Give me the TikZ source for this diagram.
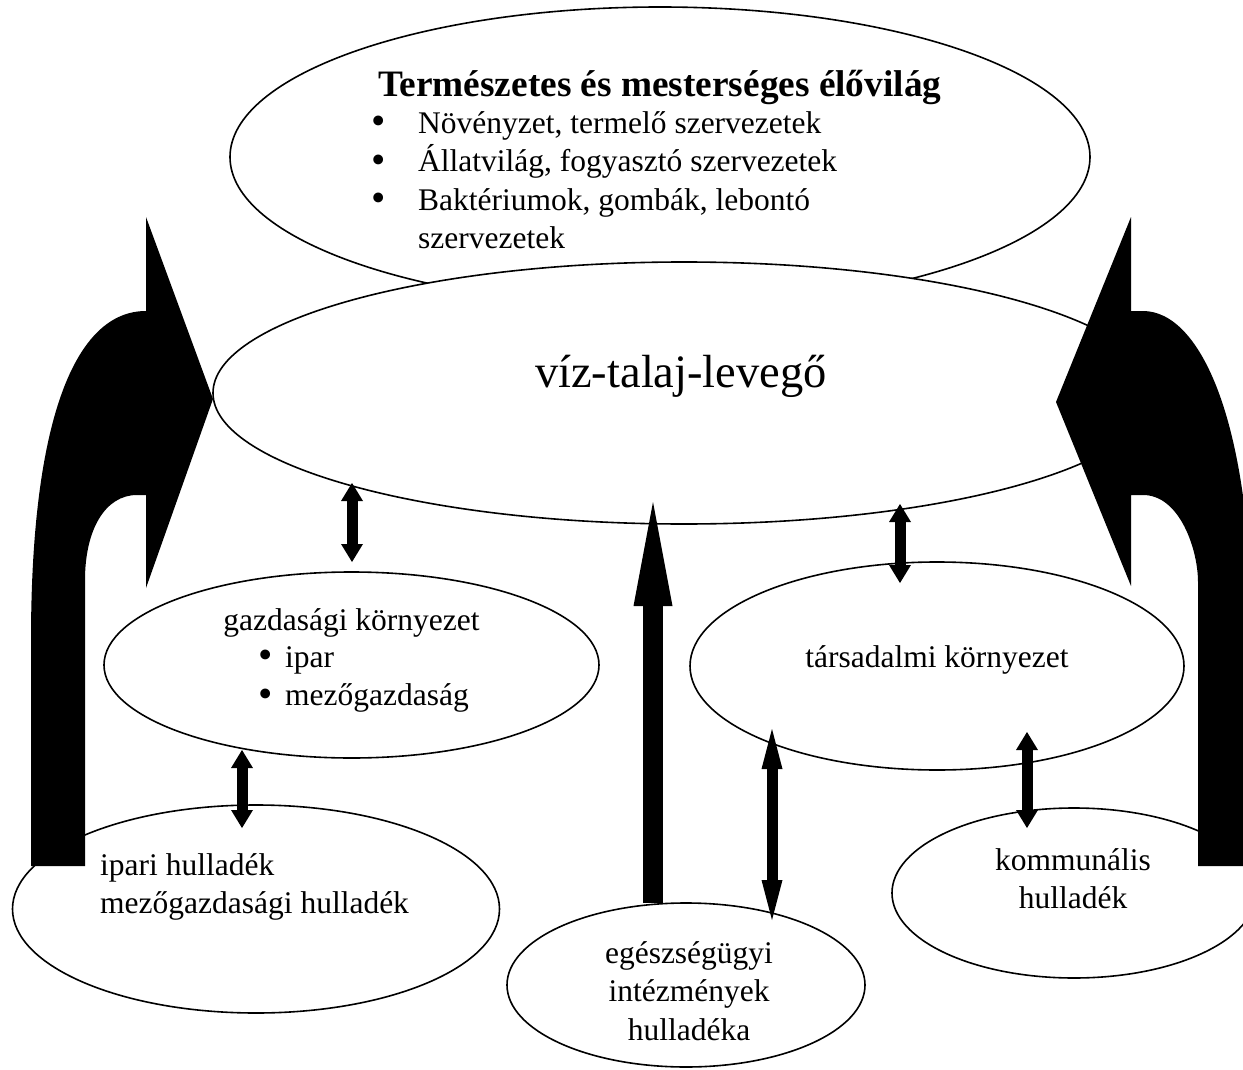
\documentclass[tikz,border=0pt]{standalone}
\usepackage{fontspec}
\setmainfont{Liberation Serif}
\usetikzlibrary{arrows.meta,shapes.geometric}
\newcommand{\bulletrow}[2]{\makebox[#1][l]{\raisebox{-0.06em}[0pt][0pt]{\scalebox{1.3}{\textbullet}}}#2}

\begin{document}
\begin{tikzpicture}[x=1pt, y=-1pt,
  blob/.style={ellipse, draw, fill=white, line width=1.6pt, inner sep=0pt},
  txt/.style={inner sep=0pt, font=\fontsize{31.5}{38.5}\selectfont},
  dbl/.style={line width=11pt,
    {Triangle[length=18pt,width=22pt,line width=0pt]}-{Triangle[length=18pt,width=22pt,line width=0pt]}},
  dbllong/.style={line width=11pt,
    {Triangle[length=40pt,width=21pt,line width=0pt]}-{Triangle[length=40pt,width=21pt,line width=0pt]}},
  feed/.style={line width=20pt, -{Triangle[length=104pt,width=39pt,line width=0pt]}},
  bigarr/.style={fill=black}
]
  \useasboundingbox (0,0) rectangle (1243,1070);
  \clip (0,0) rectangle (1243,1070);

  \node[blob, minimum width=860pt, minimum height=300pt] (elovilag) at (660,157) {};
  \node[blob, minimum width=942pt, minimum height=262pt] (viz) at (684,393) {};
  \node[blob, minimum width=495pt, minimum height=186pt] (gazd) at (351.5,665) {};
  \node[blob, minimum width=494pt, minimum height=208pt] (tars) at (937,666) {};
  \node[blob, minimum width=487pt, minimum height=208pt] (ipari) at (256,909) {};
  \node[blob, minimum width=358pt, minimum height=164pt] (egesz) at (686,985) {};
  \node[blob, minimum width=364pt, minimum height=170pt] (komm) at (1074,893) {};

  \node[txt, anchor=base west, font=\fontsize{37.3}{42}\selectfont\bfseries] (elovilag-cim) at (378,97)
    {Természetes és mesterséges élővilág};
  \node[txt, anchor=north west, align=left] (elovilag-lista) at (371,111) {
    \bulletrow{47pt}{Növényzet, termelő szervezetek}\\
    \bulletrow{47pt}{Állatvilág, fogyasztó szervezetek}\\
    \bulletrow{47pt}{Baktériumok, gombák, lebontó}\\
    \hspace*{47pt}szervezetek
  };
  \node[txt, anchor=base, font=\fontsize{46.5}{52}\selectfont] (viz-txt) at (681,387) {víz-talaj-levegő};
  \node[txt, anchor=base] (gazd-cim) at (351.5,630) {gazdasági környezet};
  \node[txt, anchor=north west, align=left] (gazd-lista) at (258,646) {
    \bulletrow{27pt}{ipar}\\
    \bulletrow{27pt}{mezőgazdaság}
  };
  \node[txt, anchor=base] (tars-txt) at (937,667) {társadalmi környezet};
  \node[txt, anchor=north west, align=left] (ipari-txt) at (100,853) {ipari hulladék\\mezőgazdasági hulladék};
  \node[txt, anchor=north, align=center] (egesz-txt) at (689,941) {egészségügyi\\intézmények\\hulladéka};
  \node[txt, anchor=north, align=center] (komm-txt) at (1073,848) {kommunális\\hulladék};

  \coordinate (viz-a) at (352,483);   \coordinate (gazd-a) at (352,562);
  \coordinate (viz-b) at (900,504);   \coordinate (tars-b) at (900,583);
  \coordinate (gazd-c) at (242,750);  \coordinate (ipari-c) at (242,828);
  \coordinate (tars-d) at (772,729);  \coordinate (egesz-d) at (772,920);
  \coordinate (tars-e) at (1027,732); \coordinate (komm-e) at (1027,828);
  \coordinate (egesz-f) at (653,903); \coordinate (viz-f) at (653,502);

  \draw[dbl] (viz-a) -- (gazd-a);
  \draw[dbl] (viz-b) -- (tars-b);
  \draw[dbl] (gazd-c) -- (ipari-c);
  \draw[dbllong] (tars-d) -- (egesz-d);
  \draw[dbl] (tars-e) -- (komm-e);
  \draw[feed] (egesz-f) -- (viz-f);

  \fill[bigarr] (31,866) -- (31,640) .. controls (31,420) and (75,311) .. (146,311)
    -- (146,217) -- (213,399) -- (146,588) -- (146,495) -- (137,495)
    .. controls (105,495) and (85,530) .. (85,580) -- (85,866) -- cycle;
  \fill[bigarr] (1198,866) -- (1198,582) .. controls (1198,550) and (1180,495) .. (1143,495)
    -- (1131,495) -- (1131,586) -- (1056,402) -- (1131,217) -- (1131,311) -- (1143,311)
    .. controls (1200,311) and (1252,420) .. (1252,640) -- (1252,866) -- cycle;
\end{tikzpicture}
\end{document}
